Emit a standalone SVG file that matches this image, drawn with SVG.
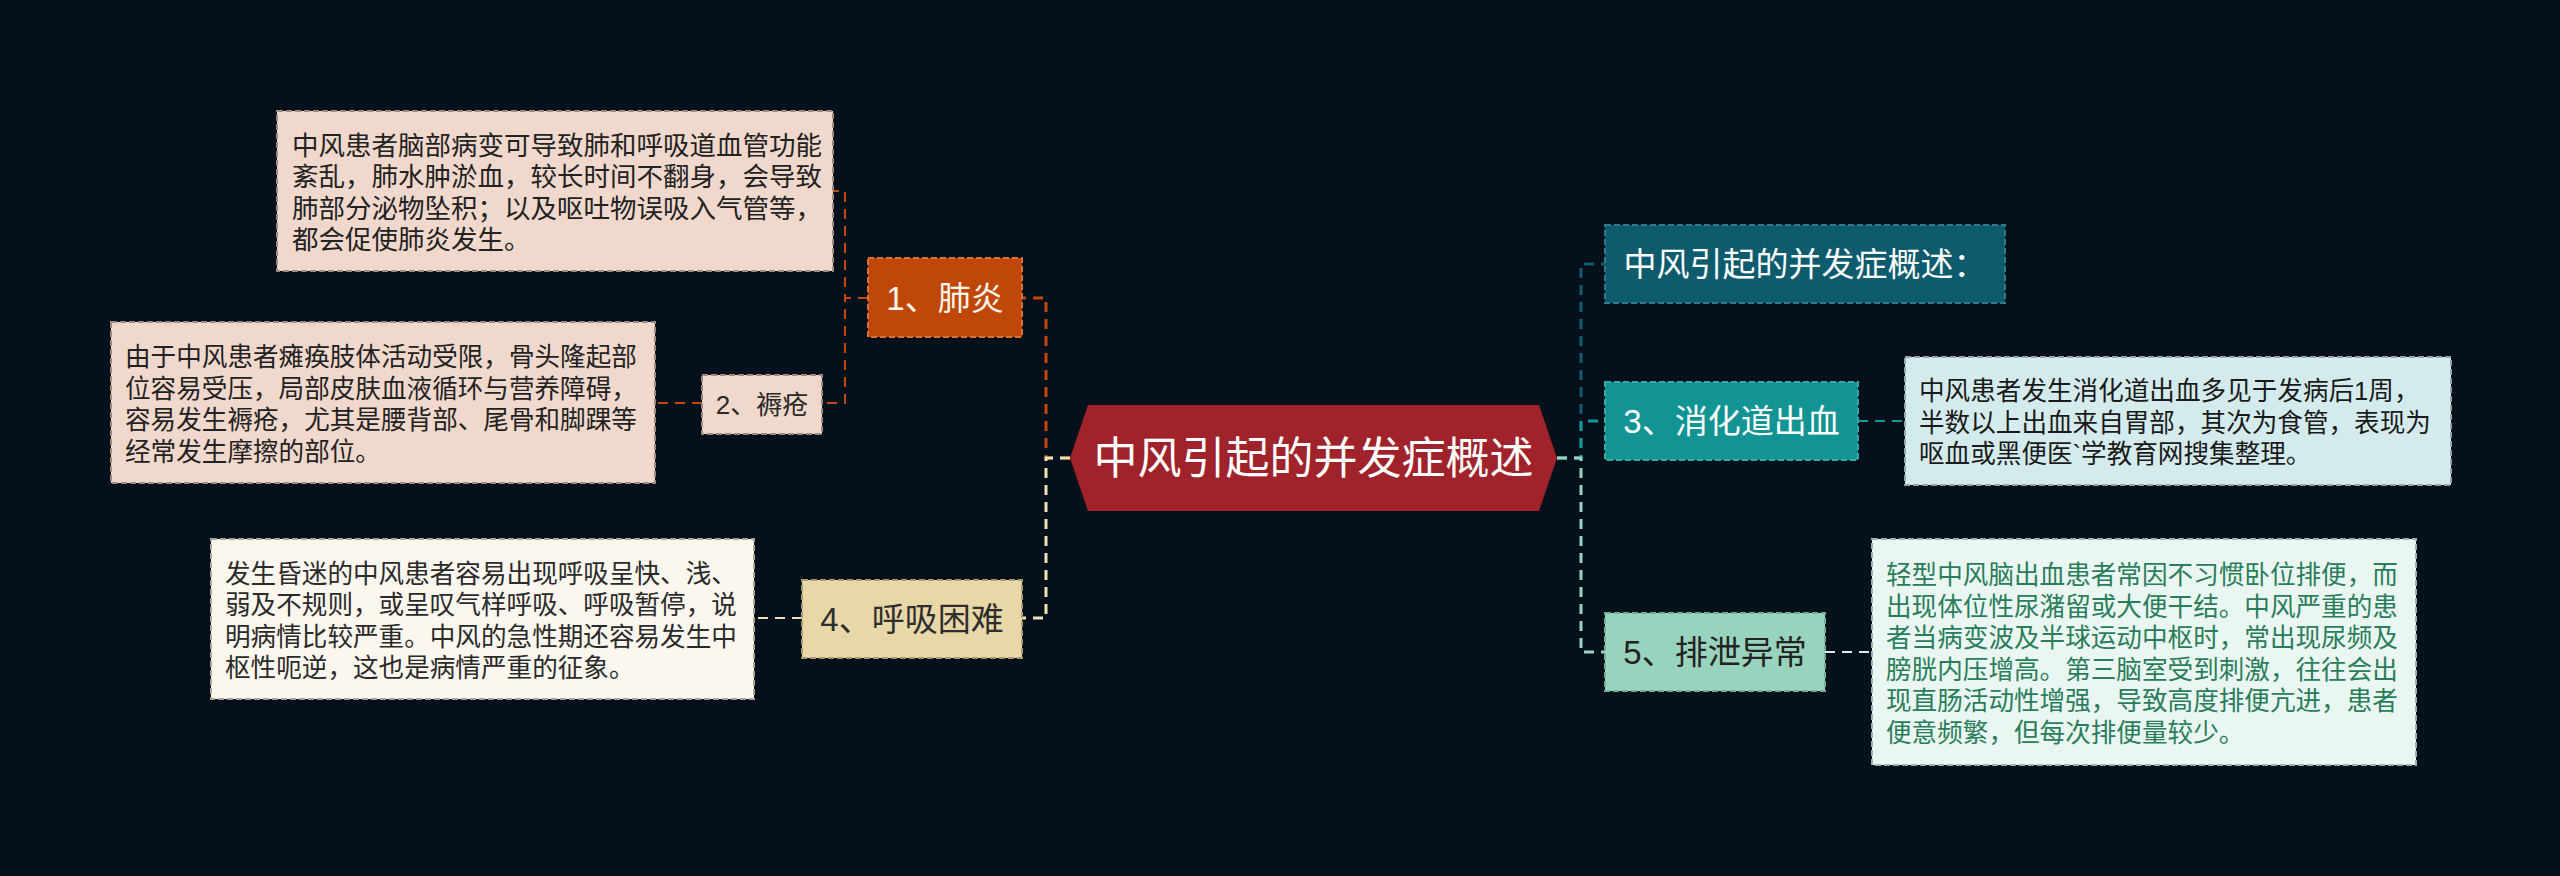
<svg xmlns="http://www.w3.org/2000/svg" width="2560" height="876" viewBox="0 0 2560 876">
<style>
text{font-family:"Liberation Sans","Noto Sans CJK SC",sans-serif;}
.desc{font-size:25.6px;}
.br{font-size:33px;text-anchor:middle;}
.sub{font-size:26px;text-anchor:middle;}
.box{stroke-width:2;stroke-dasharray:6 3;}
.c3{fill:none;stroke-width:3;stroke-dasharray:10 7;}
.c2{fill:none;stroke-width:2;stroke-dasharray:10 7;}
</style>
<rect width="2560" height="876" fill="#04111a"/>
<g id="connectors">
<path class="c3" d="M1070,458 H1046 V298 H1022" stroke="#c4480c"/>
<path class="c3" d="M1070,458 H1046 V618 H1022" stroke="#efe1b3"/>
<path class="c2" d="M868,298 H845 V191 H833" stroke="#c4480c"/>
<path class="c2" d="M868,298 H845 V403 H822" stroke="#c4480c"/>
<path class="c2" d="M702,403 H655" stroke="#c4480c"/>
<path class="c2" d="M802,618 H754" stroke="#efe1b3"/>
<path class="c3" d="M1557,458 H1581 V264 H1605" stroke="#0e5d6f"/>
<path class="c3" d="M1557,458 H1581 V421 H1605" stroke="#149596"/>
<path class="c3" d="M1557,458 H1581 V652 H1605" stroke="#9ad4c0"/>
<path class="c2" d="M1858,421 H1905" stroke="#149596"/>
<path class="c2" d="M1825,652 H1872" stroke="#d6eee5"/>
</g>
<g id="center">
<polygon points="1070,458 1088,405 1539,405 1557,458 1539,511 1088,511" fill="#a0222a"/>
<text x="1313.5" y="474" font-size="44" text-anchor="middle" fill="#ffffff">中风引起的并发症概述</text>
</g>
<g id="n1">
<rect class="box" x="868" y="258" width="154" height="79" fill="#c0470a" stroke="#d9703a"/>
<text class="br" x="945" y="310" fill="#fff5ea">1、肺炎</text>
</g>
<g id="d1">
<rect class="box" x="277" y="111" width="556" height="160" fill="#f1d8cc" stroke="#9d8a82"/>
<text class="desc" font-size="26.5" style="font-size:26.5px" fill="#222222"><tspan x="292" y="155">中风患者脑部病变可导致肺和呼吸道血管功能</tspan><tspan x="292" y="186">紊乱，肺水肿淤血，较长时间不翻身，会导致</tspan><tspan x="292" y="218">肺部分泌物坠积；以及呕吐物误吸入气管等，</tspan><tspan x="292" y="249">都会促使肺炎发生。</tspan></text>
</g>
<g id="n2">
<rect class="box" x="702" y="375" width="120" height="59" fill="#f1d8cc" stroke="#9d8a82"/>
<text class="sub" x="762" y="414" fill="#2a2a2a">2、褥疮</text>
</g>
<g id="d2">
<rect class="box" x="111" y="322" width="544" height="161" fill="#f1d8cc" stroke="#9d8a82"/>
<text class="desc" fill="#222222"><tspan x="125" y="366">由于中风患者瘫痪肢体活动受限，骨头隆起部</tspan><tspan x="125" y="398">位容易受压，局部皮肤血液循环与营养障碍，</tspan><tspan x="125" y="429">容易发生褥疮，尤其是腰背部、尾骨和脚踝等</tspan><tspan x="125" y="461">经常发生摩擦的部位。</tspan></text>
</g>
<g id="n4">
<rect class="box" x="802" y="580" width="220" height="78" fill="#e8d7a7" stroke="#a89a74"/>
<text class="br" x="912" y="631" fill="#2e2e2e">4、呼吸困难</text>
</g>
<g id="d4">
<rect class="box" x="211" y="539" width="543" height="160" fill="#fbf7ee" stroke="#a6a39b"/>
<text class="desc" fill="#2a2a2a"><tspan x="225" y="583">发生昏迷的中风患者容易出现呼吸呈快、浅、</tspan><tspan x="225" y="614">弱及不规则，或呈叹气样呼吸、呼吸暂停，说</tspan><tspan x="225" y="646">明病情比较严重。中风的急性期还容易发生中</tspan><tspan x="225" y="677">枢性呃逆，这也是病情严重的征象。</tspan></text>
</g>
<g id="n0">
<rect class="box" x="1605" y="225" width="400" height="78" fill="#0d5b6d" stroke="#2f7b8b"/>
<text class="br" x="1805" y="276" fill="#ffffff">中风引起的并发症概述：</text>
</g>
<g id="n3">
<rect class="box" x="1605" y="382" width="253" height="78" fill="#129494" stroke="#37aaa8"/>
<text class="br" x="1731.5" y="433" fill="#ffffff">3、消化道出血</text>
</g>
<g id="d3">
<rect class="box" x="1905" y="357" width="546" height="128" fill="#d4ebed" stroke="#8fa5a7"/>
<text class="desc" fill="#1a1a1a"><tspan x="1919" y="400">中风患者发生消化道出血多见于发病后1周，</tspan><tspan x="1919" y="432">半数以上出血来自胃部，其次为食管，表现为</tspan><tspan x="1919" y="463">呕血或黑便医`学教育网搜集整理。</tspan></text>
</g>
<g id="n5">
<rect class="box" x="1605" y="613" width="220" height="78" fill="#97d3bd" stroke="#6fae98"/>
<text class="br" x="1715" y="664" fill="#232323">5、排泄异常</text>
</g>
<g id="d5">
<rect class="box" x="1872" y="539" width="544" height="226" fill="#e9f6f1" stroke="#9bb1a9"/>
<text class="desc" fill="#2a7d5a"><tspan x="1886" y="584">轻型中风脑出血患者常因不习惯卧位排便，而</tspan><tspan x="1886" y="616">出现体位性尿潴留或大便干结。中风严重的患</tspan><tspan x="1886" y="647">者当病变波及半球运动中枢时，常出现尿频及</tspan><tspan x="1886" y="679">膀胱内压增高。第三脑室受到刺激，往往会出</tspan><tspan x="1886" y="710">现直肠活动性增强，导致高度排便亢进，患者</tspan><tspan x="1886" y="742">便意频繁，但每次排便量较少。</tspan></text>
</g>
</svg>
